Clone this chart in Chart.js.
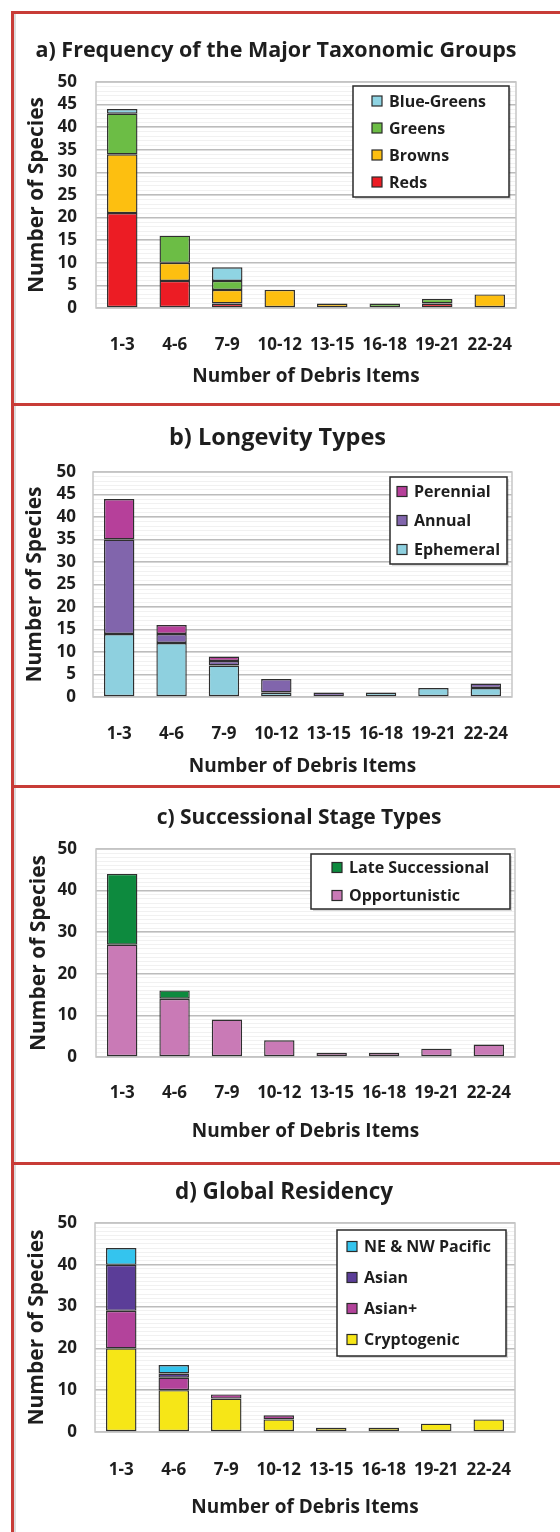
<!DOCTYPE html>
<html>
<head>
<meta charset="utf-8">
<title>Debris species</title>
<script src="https://cdn.jsdelivr.net/npm/chart.js@4.4.1/dist/chart.umd.min.js"></script>
<style>
    body {
        margin: 0;
        width: 560px;
        height: 1532px;
        background: #fff;
        position: relative;
        overflow: hidden;
    }
    .panel {
        position: absolute;
        left: 11px;
        width: 560px;
        border-left: 3px solid #c83c37;
        border-top: 3px solid #c83c37;
        box-shadow: inset 2px 0 0 #dcdcdc;
    }
    .panel canvas {
        position: absolute;
        left: 0;
        top: 0;
    }
</style>
</head>
<body>
<div class="panel" style="top:11px;height:389px"><canvas id="taxaChart" width="546" height="389"></canvas></div>
<div class="panel" style="top:403px;height:379px"><canvas id="longevityChart" width="546" height="379"></canvas></div>
<div class="panel" style="top:785px;height:374px"><canvas id="successionChart" width="546" height="374"></canvas></div>
<div class="panel" style="top:1162px;height:370px"><canvas id="residencyChart" width="546" height="367"></canvas></div>

<script>
const debrisRanges = ['1-3', '4-6', '7-9', '10-12', '13-15', '16-18', '19-21', '22-24'];

// a) major taxonomic groups
const reds = [21, 6, 1, 0, 0, 0, 1, 0];
const browns = [13, 4, 3, 4, 1, 0, 0, 3];
const greens = [9, 6, 2, 0, 0, 1, 1, 0];
const blueGreens = [1, 0, 3, 0, 0, 0, 0, 0];

// b) longevity
const ephemeral = [14, 12, 7, 1, 0, 1, 2, 2];
const annual = [21, 2, 1, 3, 1, 0, 0, 1];
const perennial = [9, 2, 1, 0, 0, 0, 0, 0];

// c) successional stage
const opportunistic = [27, 14, 9, 4, 1, 1, 2, 3];
const lateSuccessional = [17, 2, 0, 0, 0, 0, 0, 0];

// d) global residency
const cryptogenic = [20, 10, 8, 3, 1, 1, 2, 3];
const asianPlus = [9, 3, 1, 1, 0, 0, 0, 0];
const asian = [11, 1, 0, 0, 0, 0, 0, 0];
const nwPacific = [4, 2, 0, 0, 0, 0, 0, 0];

const FONT = '"Open Sans"';
const TEXT = '#1e1e1e';

// grey frame round the plot area
const plotFrame = {
    id: 'plotFrame',
    beforeDatasetsDraw(chart) {
        const { ctx, chartArea } = chart;
        ctx.save();
        ctx.strokeStyle = '#c6c6c6';
        ctx.lineWidth = 1.5;
        ctx.strokeRect(chartArea.left, chartArea.top, chartArea.width, chartArea.height);
        ctx.restore();
    }
};

// move the chart title so it is centred on a given x
const titleCentre = {
    id: 'titleCentre',
    afterLayout(chart, args, opts) {
        const t = chart.titleBlock;
        if (!t || opts.cx === undefined) return;
        const w = t.right - t.left;
        t.left = opts.cx - w / 2;
        t.right = t.left + w;
    }
};

// boxed legend sitting inside the plot, top series listed first
const boxLegend = {
    id: 'boxLegend',
    afterDraw(chart, args, opts) {
        const ctx = chart.ctx;
        const sets = chart.data.datasets;
        const n = sets.length;
        ctx.save();
        ctx.fillStyle = 'rgba(0,0,0,0.15)';
        ctx.fillRect(opts.x + 2, opts.y + 2, opts.w, opts.h);
        ctx.fillStyle = '#fff';
        ctx.fillRect(opts.x, opts.y, opts.w, opts.h);
        ctx.strokeStyle = '#2a2a2a';
        ctx.lineWidth = 1.5;
        ctx.strokeRect(opts.x, opts.y, opts.w, opts.h);
        ctx.font = 'bold 16px ' + FONT;
        ctx.textBaseline = 'middle';
        for (let i = 0; i < n; i++) {
            const ds = sets[n - 1 - i];
            const cy = opts.y + opts.h / 2 + (i - (n - 1) / 2) * opts.gap;
            const sx = opts.x + opts.pad;
            ctx.fillStyle = ds.backgroundColor;
            ctx.fillRect(sx, cy - 5, 10, 10);
            ctx.lineWidth = 1.2;
            ctx.strokeRect(sx, cy - 5, 10, 10);
            ctx.fillStyle = TEXT;
            ctx.fillText(ds.label, sx + 17, cy + 1);
        }
        ctx.restore();
    }
};

function series(label, data, color) {
    return {
        label: label,
        data: data,
        backgroundColor: color,
        borderColor: '#2f2f2f',
        borderWidth: 1.4,
        borderSkipped: false,
        barPercentage: 0.58,
        categoryPercentage: 1
    };
}

function stackedConfig(title, datasets, lay) {
    return {
        type: 'bar',
        data: { labels: debrisRanges, datasets: datasets },
        options: {
            responsive: false,
            animation: false,
            layout: { padding: { left: 0, right: lay.right, top: 0, bottom: 0 } },
            plugins: {
                legend: { display: false },
                tooltip: { enabled: false },
                title: {
                    display: true,
                    text: title,
                    color: TEXT,
                    font: { family: FONT, size: lay.titleSize, weight: 'bold' },
                    padding: { top: lay.titleTop, bottom: lay.titleBottom }
                },
                titleCentre: { cx: lay.titleX },
                boxLegend: lay.legend
            },
            scales: {
                x: {
                    stacked: true,
                    grid: { display: false },
                    border: { display: false },
                    ticks: { padding: lay.xTickPad, color: TEXT, font: { family: FONT, size: 17, weight: 'bold' } },
                    title: {
                        display: true,
                        text: 'Number of Debris Items',
                        color: TEXT,
                        font: { family: FONT, size: 19, weight: 'bold' },
                        padding: { top: 0, bottom: lay.xTitlePad }
                    },
                    afterFit: (scale) => { scale.height = lay.xHeight; }
                },
                y: {
                    stacked: true,
                    min: 0,
                    max: 50,
                    grid: { color: '#bcbcbc', lineWidth: 1.5, drawTicks: false },
                    border: { display: false },
                    ticks: {
                        stepSize: lay.step,
                        autoSkip: false,
                        padding: lay.yTickPad,
                        color: TEXT,
                        font: { family: FONT, size: 17, weight: 'bold' }
                    },
                    title: {
                        display: true,
                        text: 'Number of Species',
                        color: TEXT,
                        font: { family: FONT, size: 21, weight: 'bold' },
                        padding: { top: lay.yTitlePad, bottom: 0 }
                    },
                    afterFit: (scale) => { scale.width = lay.yWidth; }
                },
                yMinor: {
                    position: 'left',
                    min: 0,
                    max: 50,
                    ticks: { display: false, stepSize: 1 },
                    grid: { color: '#f1f1f1', drawTicks: false, z: -2 },
                    border: { display: false },
                    afterFit: (scale) => { scale.width = 0; }
                }
            }
        },
        plugins: [plotFrame, titleCentre, boxLegend]
    };
}

new Chart(document.getElementById('taxaChart'), stackedConfig(
    'a) Frequency of the Major Taxonomic Groups',
    [
        series('Reds', reds, '#ec1c24'),
        series('Browns', browns, '#fdbf10'),
        series('Greens', greens, '#6cbd45'),
        series('Blue-Greens', blueGreens, '#8fd4e3')
    ],
    {
        right: 44, titleSize: 21.5, titleTop: 24.1, titleBottom: 18.1, titleX: 262, step: 5,
        xHeight: 95, xTickPad: 19, xTitlePad: 14.6,
        yWidth: 82, yTickPad: 19, yTitlePad: 10.4,
        legend: { x: 339, y: 72, w: 156, h: 111, gap: 27, pad: 19 }
    }
));

new Chart(document.getElementById('longevityChart'), stackedConfig(
    'b) Longevity Types',
    [
        series('Ephemeral', ephemeral, '#8ed0df'),
        series('Annual', annual, '#8165ac'),
        series('Perennial', perennial, '#b6409a')
    ],
    {
        right: 48, titleSize: 23.5, titleTop: 17.9, titleBottom: 19.9, titleX: 263.5, step: 5,
        xHeight: 88, xTickPad: 19, xTitlePad: 6.6,
        yWidth: 79, yTickPad: 17, yTitlePad: 8.4,
        legend: { x: 376, y: 71, w: 117, h: 87, gap: 29, pad: 7 }
    }
));

new Chart(document.getElementById('successionChart'), stackedConfig(
    'c) Successional Stage Types',
    [
        series('Opportunistic', opportunistic, '#c97ab6'),
        series('Late Successional', lateSuccessional, '#0d8a3e')
    ],
    {
        right: 45, titleSize: 21, titleTop: 17.4, titleBottom: 18.4, titleX: 285, step: 10,
        xHeight: 105, xTickPad: 18, xTitlePad: 18.6,
        yWidth: 82, yTickPad: 19, yTitlePad: 12.4,
        legend: { x: 297, y: 66, w: 199, h: 55, gap: 28, pad: 21 }
    }
));

new Chart(document.getElementById('residencyChart'), stackedConfig(
    'd) Global Residency',
    [
        series('Cryptogenic', cryptogenic, '#f6e617'),
        series('Asian+', asianPlus, '#b3439b'),
        series('Asian', asian, '#5b3d98'),
        series('NE & NW Pacific', nwPacific, '#34c4ee')
    ],
    {
        right: 45, titleSize: 22.5, titleTop: 14.5, titleBottom: 16.5, titleX: 270, step: 10,
        xHeight: 100, xTickPad: 20, xTitlePad: 12.6,
        yWidth: 81, yTickPad: 18, yTitlePad: 10.4,
        legend: { x: 323, y: 65, w: 169, h: 126, gap: 31, pad: 10 }
    }
));
</script>
</body>
</html>
